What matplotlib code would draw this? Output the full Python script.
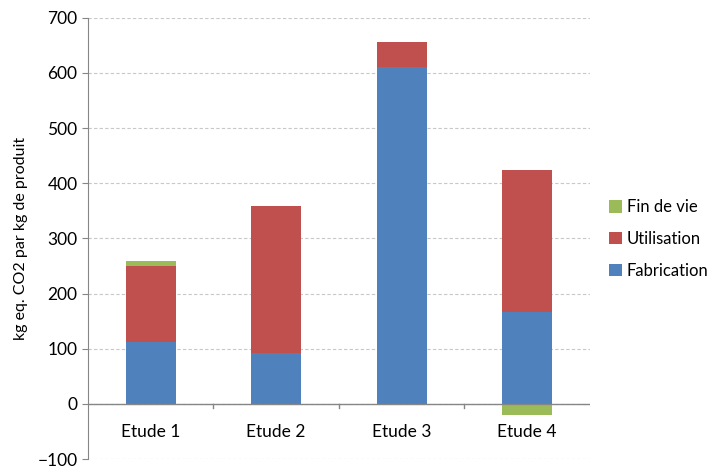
import numpy as np
import matplotlib.pyplot as plt

categories = ['Etude 1', 'Etude 2', 'Etude 3', 'Etude 4']
fabrication = [112, 92, 610, 167]
utilisation = [138, 266, 46, 257]
fin_de_vie = [9, 0, 0, -20]

c_fab = '#4F81BD'
c_uti = '#C0504D'
c_fin = '#9BBB59'

plt.rcParams['font.family'] = ['Lato', 'DejaVu Sans']

fig = plt.figure(figsize=(7.15, 4.68), dpi=100)
ax = fig.add_axes([0.123, 0.019, 0.702, 0.943])

x = np.arange(len(categories))
w = 0.4
fab = np.array(fabrication)
uti = np.array(utilisation)
fin = np.array(fin_de_vie)

ax.bar(x, fab, w, color=c_fab, label='Fabrication', zorder=3)
ax.bar(x, uti, w, bottom=fab, color=c_uti, label='Utilisation', zorder=3)
fin_bottom = np.where(fin >= 0, fab + uti, 0)
ax.bar(x, fin, w, bottom=fin_bottom, color=c_fin, label='Fin de vie', zorder=3)

ax.set_xlim(-0.5, len(categories) - 0.5)
ax.set_ylim(-100, 700)
ax.set_yticks(range(-100, 701, 100))
ax.yaxis.grid(True, linestyle=(0, (3, 2)), color='#c8c8c8', linewidth=0.8, zorder=0)
ax.axhline(0, color='#868686', linewidth=1, zorder=4)

for s in ['top', 'right', 'bottom']:
    ax.spines[s].set_visible(False)
ax.spines['left'].set_color('#868686')
ax.tick_params(axis='y', colors='#868686', labelcolor='black', labelsize=12.5, length=4)
ax.set_xticks([])

# separateurs sur l'axe des categories
for b in np.arange(0.5, len(categories) - 0.5, 1):
    ax.plot([b, b], [0, -8], color='#868686', linewidth=1, zorder=4, clip_on=False)
for i, c in enumerate(categories):
    ax.text(i, -50, c, ha='center', va='center', fontsize=12.5)

ax.set_ylabel('kg eq. CO2 par kg de produit', fontsize=11.5, labelpad=7)

handles, labels = ax.get_legend_handles_labels()
fig.legend(handles[::-1], labels[::-1], loc='center left', bbox_to_anchor=(0.852, 0.489),
           frameon=False, fontsize=12, handlelength=0.75, handleheight=0.75,
           labelspacing=0.95, handletextpad=0.3, borderpad=0, borderaxespad=0)

fig.savefig('out.png', dpi=100)
